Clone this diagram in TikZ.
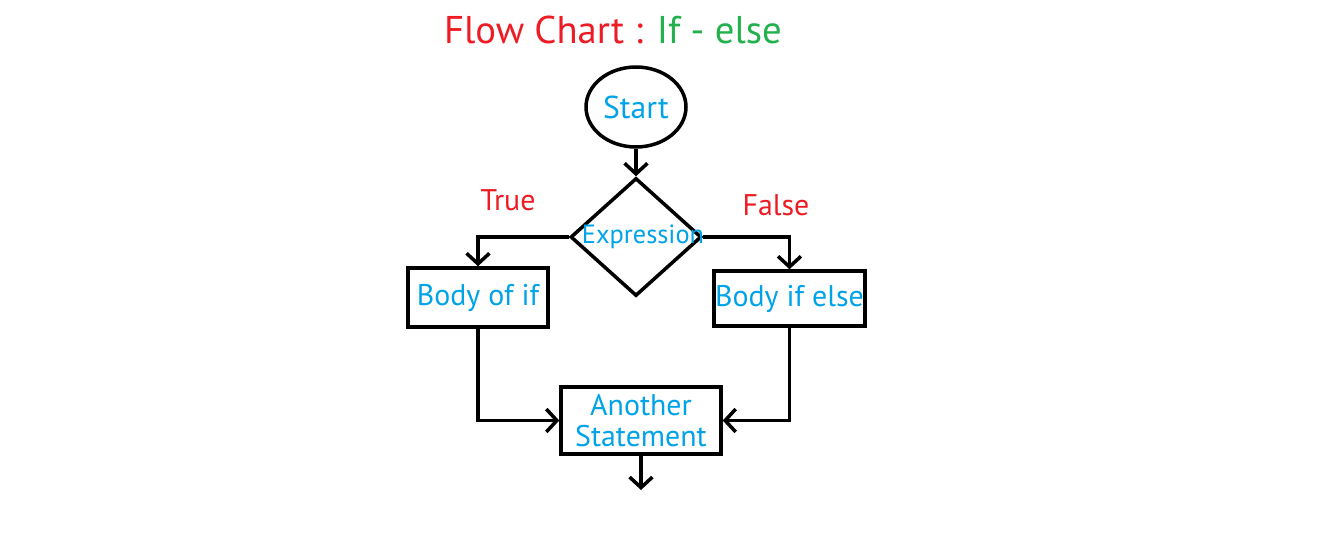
\documentclass[tikz,border=0pt]{standalone}
\usepackage{fontspec}
\setmainfont{PT Sans}
\usetikzlibrary{arrows.meta,shapes.geometric}
\definecolor{penred}{RGB}{237,28,36}
\definecolor{pengreen}{RGB}{34,177,76}
\definecolor{penblue}{RGB}{0,162,232}
\tikzset{
  termnode/.style={draw, ellipse, line width=2pt, minimum width=2cm, minimum height=1.6cm, inner sep=0pt, text=penblue, font=\fontsize{18}{20}\selectfont},
  decnode/.style={draw, diamond, line width=2pt, minimum width=2.62cm, minimum height=2.36cm, inner sep=0pt},
  procbox/.style={draw, rectangle, line width=2pt, inner sep=0pt, text=penblue, font=\fontsize{17}{18}\selectfont},
  branchlbl/.style={text=penred, font=\fontsize{17}{20}\selectfont},
  cline/.style={-{Straight Barb[length=6pt,width=13pt]}, line width=2pt},
}

\begin{document}
\begin{tikzpicture}[x=0.02cm,y=-0.02cm]
  \useasboundingbox (0,0) rectangle (1340,551);

  \node[font=\fontsize{22}{26}\selectfont] (title) at (613,30)
    {\textcolor{penred}{Flow Chart :} \textcolor{pengreen}{If - else}};

  \node[termnode] (start) at (636,107) {Start};
  \node[decnode, label={[text=penblue, font=\fontsize{15}{18}\selectfont, xshift=4pt]center:Expression}] (expr) at (636,237) {};

  \node[procbox, minimum width=2.8cm, minimum height=1.18cm] (ifbody) at (478,297.5) {Body of if};
  \node[procbox, minimum width=3.02cm, minimum height=1.1cm] (elsebody) at (789.5,298.5) {Body if else};
  \node[procbox, minimum width=3.2cm, minimum height=1.34cm, align=center] (next) at (641,420.5) {Another\\Statement};

  \node[branchlbl] (truelbl) at (508,200) {True};
  \node[branchlbl] (falselbl) at (776,205) {False};

  \coordinate (exit) at (641,490);

  \draw[cline] (start.south) -- (expr.north);
  \draw[cline] (expr.west) -| (ifbody.north);
  \draw[cline] (expr.east) -| (elsebody.north);
  \draw[cline] (ifbody.south) |- (next.west);
  \draw[cline] (elsebody.south) |- (next.east);
  \draw[cline] (next.south) -- (exit);
\end{tikzpicture}
\end{document}
